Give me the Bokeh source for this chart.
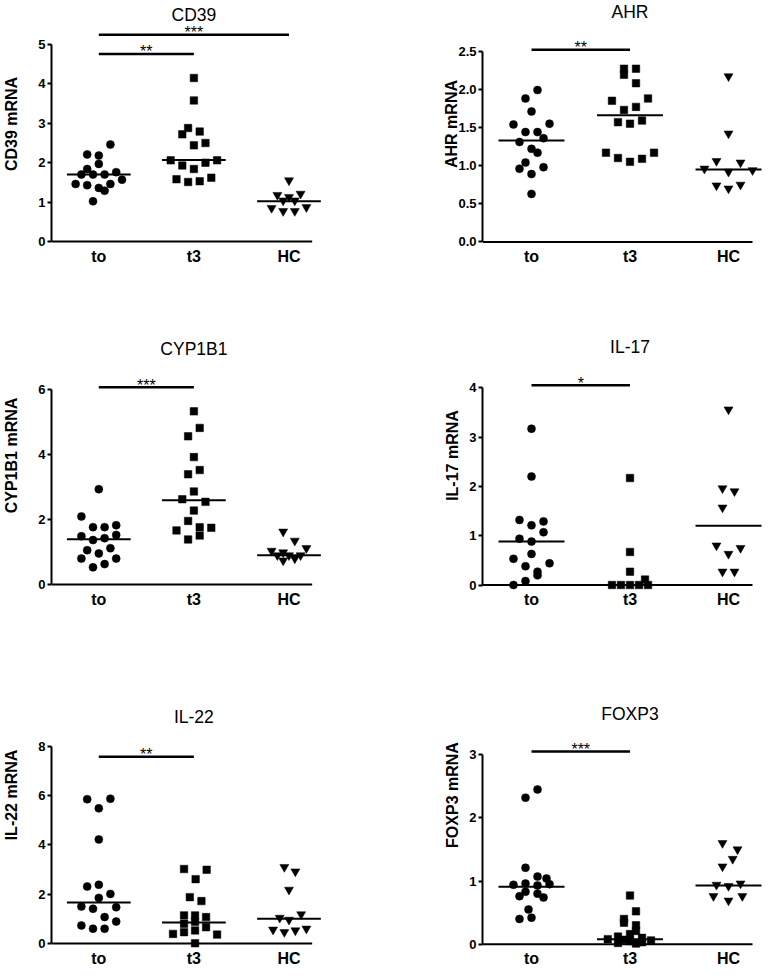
import numpy as np
from bokeh.plotting import figure
from bokeh.models import FixedTicker, Range1d, PrintfTickFormatter
from bokeh.layouts import column, row
from bokeh.embed import file_html
from bokeh.resources import INLINE
from bokeh.core.properties import value

categories = ["to", "t3", "HC"]

# ---------------- data ----------------
cd39_to = [2.46, 2.21, 2.18, 1.84, 1.97, 1.70, 1.70, 1.70, 1.76, 1.46, 1.43, 1.46, 1.57, 1.36, 1.29, 1.02]
cd39_t3 = [4.15, 3.58, 2.88, 2.72, 2.79, 2.44, 2.50, 2.06, 1.93, 2.00, 2.06, 1.84, 1.58, 1.51, 1.53, 1.62]
cd39_hc = [1.55, 1.18, 1.13, 1.21, 1.04, 1.04, 0.85, 0.77, 0.77, 0.87]
cd39_center = [1.70, 2.07, 1.02]

ahr_to = [0.63, 1.99, 1.88, 1.71, 1.54, 1.55, 1.44, 1.44, 1.31, 1.36, 1.22, 1.17, 1.04, 0.96, 0.98, 0.89]
ahr_t3 = [2.27, 2.27, 2.19, 2.08, 1.85, 1.88, 1.73, 1.77, 1.57, 1.55, 1.59, 1.17, 1.17, 1.10, 1.05, 1.09]
ahr_hc = [2.17, 1.42, 1.06, 1.04, 0.92, 0.96, 0.94, 0.74, 0.75, 0.70]
ahr_center = [1.33, 1.66, 0.95]

cyp_to = [2.94, 2.10, 1.77, 1.77, 1.83, 1.49, 1.37, 1.43, 1.53, 1.06, 0.96, 1.12, 0.80, 0.80, 0.53, 0.63]
cyp_t3 = [5.34, 4.83, 4.57, 3.93, 3.53, 3.40, 2.87, 2.63, 2.55, 2.28, 1.96, 1.77, 1.75, 1.67, 1.51, 1.39]
cyp_hc = [1.63, 1.35, 1.04, 1.12, 0.90, 0.74, 0.90, 0.80, 0.90, 0.99]
cyp_center = [1.40, 2.60, 0.90]

il17_to = [3.17, 2.20, 1.32, 1.29, 1.21, 1.07, 0.94, 0.88, 0.63, 0.53, 0.38, 0.44, 0.27, 0.20, 0.08, 0.00]
il17_t3 = [2.17, 0.67, 0.27, 0.11, 0.00, 0.00, 0.00, 0.00, 0.00]
il17_hc = [3.56, 1.96, 1.90, 1.57, 0.80, 0.63, 0.75, 0.27, 0.27]
il17_center = [0.88, 0.00, 1.20]

il22_to = [5.85, 5.87, 5.48, 4.22, 2.31, 2.38, 2.01, 1.85, 1.50, 1.41, 1.47, 1.07, 0.89, 0.73, 0.60, 0.60]
il22_t3 = [3.02, 2.99, 2.61, 1.88, 1.72, 1.14, 1.14, 1.07, 0.88, 0.80, 0.66, 0.53, 0.46, 0.39, 0.36, 0.01]
il22_hc = [3.10, 2.92, 2.18, 1.18, 1.04, 0.96, 0.60, 0.56, 0.53, 0.46]
il22_center = [1.66, 0.85, 1.00]

foxp3_to = [2.32, 2.45, 1.21, 1.07, 1.04, 0.96, 0.94, 0.95, 0.93, 0.83, 0.80, 0.76, 0.74, 0.55, 0.40, 0.42]
foxp3_t3 = [0.77, 0.52, 0.40, 0.34, 0.30, 0.21, 0.16, 0.12, 0.10, 0.08, 0.07, 0.06, 0.05, 0.03, 0.02, 0.01]
foxp3_hc = [1.60, 1.50, 1.35, 1.23, 0.96, 0.94, 0.92, 0.76, 0.69, 0.76]
foxp3_center = [0.91, 0.08, 0.93]

# significance brackets: (from group, to group, height, label)
cd39_sig = [(0, 1, 4.76, "**"), (0, 2, 5.25, "***")]
ahr_sig = [(0, 1, 2.52, "**")]
cyp_sig = [(0, 1, 6.08, "***")]
il17_sig = [(0, 1, 4.05, "*")]
il22_sig = [(0, 1, 7.57, "**")]
foxp3_sig = [(0, 1, 3.05, "***")]

# ---------------- scatter jitter slots (layout of the dot columns) ----------------
cd39_slots = ([2, -2, 0, -2, 0, -3, -1, 1, 3, -4, -2, 2, 4, 0, 1, -1],
              [0, 0, -1, -2, 1, 0, 2, -4, -2, 2, 4, 0, -3, -1, 1, 3],
              [0, -2, 0, 2, -1, 1, -3, -1, 1, 3])
ahr_slots = ([0, 1, -1, 0, -3, 3, -1, 1, -2, 2, 0, 1, -1, -2, 2, 0],
             [-1, 1, -1, 1, -3, 3, -1, 1, -2, 0, 2, -4, 4, -2, 0, 2],
             [0, 0, -2, 2, 0, -4, 4, -2, 2, 0])
cyp_slots = ([0, -3, -1, 1, 3, -3, -1, 1, 3, -2, 0, 2, -3, 3, -1, 1],
             [0, 1, -1, 0, 1, -1, 0, -2, 2, 0, -1, 1, 3, -3, 1, -1],
             [-1, 1, -3, 3, -2, -1, 0, 1, 2, -1])
il17_slots = ([0, 0, -2, 2, 0, 2, -2, 0, 0, -3, -1, 3, 1, 1, -1, -3],
              [0, 0, 0, 2.5, -3, -1.5, 0, 1.5, 3],
              [0, -1, 1, -1, -2, 0, 2, -1, 1])
il22_slots = ([-2, 2, 0, 0, -2, 0, 2, 0, -3, -1, 3, 1, 3, -3, -1, 1],
              [-1.7, 2.2, 0.3, -0.7, 1.3, -1.7, 0.2, 2.1, 0.2, -1.7, 2.1, 0.2, -1.7, -3.6, 4.0, 0.2],
              [-0.8, 1.1, 0, 2.1, -1.6, 0, 3, -2.75, 1.1, -0.8])
foxp3_slots = ([-1, 1, -1, 1, 2.5, -1, -3, 3, 1, -1, 1, -2, 2, -0.5, -2, 0],
               [0, 1, -1, -1, 1, 1, 0, -2, 2, -3.7, -1, 3.5, 0, 2, -2, 1],
               [-1, 1.5, 0.7, -1, 2, -2, 0, -2.5, 0, 2.3])

# ---------------- layout constants ----------------
FONT = "Liberation Sans"
SLOT = 0.061          # category units per jitter slot (~6 px)
PX_PER_CAT = 98.5
ROW_Y = [0, 320, 640]
ROW_H = [320, 320, 335]
COL_W = [398, 380]
AXIS_LOCAL = [41, 84]   # frame left inside each column figure
FRAME_W = [289, 288]
MARKERS = ["circle", "square", "inverted_triangle"]
SIZES = [8, 7.5, 9]


def panel(name, ylabel, groups, slots, centers, sig, ticks, fmt,
          col, rw, y0_ref, ppu, title_ref, xlab_ref, ylab_standoff, ext=6):
    fw, fh = COL_W[col], ROW_H[rw]
    top = ROW_Y[rw]
    frame_bottom = int(round(y0_ref + ext))
    frame_h = frame_bottom - top
    mb = int(fh - frame_h)
    ml = AXIS_LOCAL[col]
    mr = int(fw - ml - FRAME_W[col])
    xs = -49.0 / PX_PER_CAT
    xe = xs + FRAME_W[col] / PX_PER_CAT
    ys = -(frame_bottom - y0_ref) / ppu
    ye = (y0_ref - top) / ppu

    p = figure(width=fw, height=fh, x_range=Range1d(xs, xe), y_range=Range1d(ys, ye),
               output_backend="svg", toolbar_location=None, title=None,
               min_border_left=ml, min_border_right=mr, min_border_top=0,
               min_border_bottom=mb)
    p.outline_line_color = None
    p.grid.visible = False
    p.background_fill_color = "white"
    p.border_fill_color = "white"

    # y axis
    ya = p.yaxis[0]
    ya.ticker = FixedTicker(ticks=ticks)
    ya.bounds = (0, ticks[-1])
    ya.formatter = PrintfTickFormatter(format=fmt)
    ya.axis_line_width = 2
    ya.major_tick_line_width = 2
    ya.major_tick_out = 4
    ya.major_tick_in = 0
    ya.minor_tick_line_color = None
    ya.major_label_standoff = 2
    ya.major_label_text_font = FONT
    ya.major_label_text_font_style = "bold"
    ya.major_label_text_font_size = "13px"
    ya.major_label_text_color = "black"
    ya.axis_label = ylabel
    ya.axis_label_text_font = FONT
    ya.axis_label_text_font_style = "bold"
    ya.axis_label_text_font_size = "16px"
    ya.axis_label_text_color = "black"
    ya.axis_label_standoff = ylab_standoff

    # x axis (labels only; baseline drawn at y = 0)
    xa = p.xaxis[0]
    xa.ticker = FixedTicker(ticks=[0, 1, 2])
    xa.major_label_overrides = {i: c for i, c in enumerate(categories)}
    xa.axis_line_color = None
    xa.major_tick_line_color = None
    xa.minor_tick_line_color = None
    xa.major_tick_out = 0
    xa.major_tick_in = 0
    xa.major_label_standoff = max(0, int(round(xlab_ref - 9 - frame_bottom)))
    xa.major_label_text_font = FONT
    xa.major_label_text_font_style = "bold"
    xa.major_label_text_font_size = "16px"
    xa.major_label_text_color = "black"

    x_end = 2 + 24.0 / PX_PER_CAT
    p.segment(x0=[xs], y0=[0], x1=[x_end], y1=[0], line_color="black", line_width=2)

    for i, (vals, sl) in enumerate(zip(groups, slots)):
        x = [i + s * SLOT for s in sl]
        p.scatter(x=x, y=vals, marker=MARKERS[i], size=SIZES[i],
                  fill_color="black", line_color="black", line_width=0.5)
        p.segment(x0=[i - 0.335], y0=[centers[i]], x1=[i + 0.335], y1=[centers[i]],
                  line_color="black", line_width=2)

    for a, b, h, lab in sig:
        p.segment(x0=[a], y0=[h], x1=[b], y1=[h], line_color="black", line_width=2.5)
        p.text(x=[(a + b) / 2], y=[h], text=[lab], text_align="center",
               text_baseline="middle", y_offset=-2, text_font=value(FONT),
               text_font_size="16px", text_color="black")

    p.text(x=[1], y=[(y0_ref - title_ref) / ppu], text=[name], text_align="center",
           text_baseline="middle", text_font=value(FONT), text_font_size="17.5px",
           text_color="black")
    return p


p1 = panel("CD39", "CD39 mRNA", [cd39_to, cd39_t3, cd39_hc], cd39_slots, cd39_center, cd39_sig,
           [0, 1, 2, 3, 4, 5], "%d", 0, 0, 241.0, 39.4, 14.5, 255, 15)
p2 = panel("AHR", "AHR mRNA", [ahr_to, ahr_t3, ahr_hc], ahr_slots, ahr_center, ahr_sig,
           [0, 0.5, 1.0, 1.5, 2.0, 2.5], "%.1f", 1, 0, 249.3, 78.8, 11.7, 255, -5)
p3 = panel("CYP1B1", "CYP1B1 mRNA", [cyp_to, cyp_t3, cyp_hc], cyp_slots, cyp_center, cyp_sig,
           [0, 2, 4, 6], "%d", 0, 1, 586.0, 32.67, 348.3, 598, 15)
p4 = panel("IL-17", "IL-17 mRNA", [il17_to, il17_t3, il17_hc], il17_slots, il17_center, il17_sig,
           [0, 1, 2, 3, 4], "%d", 1, 1, 584.5, 49.3, 346, 598, 5)
p5 = panel("IL-22", "IL-22 mRNA", [il22_to, il22_t3, il22_hc], il22_slots, il22_center, il22_sig,
           [0, 2, 4, 6, 8], "%d", 0, 2, 943.0, 24.66, 716.7, 958, 15)
p6 = panel("FOXP3", "FOXP3 mRNA", [foxp3_to, foxp3_t3, foxp3_hc], foxp3_slots, foxp3_center, foxp3_sig,
           [0, 1, 2, 3], "%d", 1, 2, 954.5, 65.4, 716, 968, 5)

layout = column(row(p1, p2), row(p3, p4), row(p5, p6))
open("out.html", "w").write(file_html(layout, INLINE))
